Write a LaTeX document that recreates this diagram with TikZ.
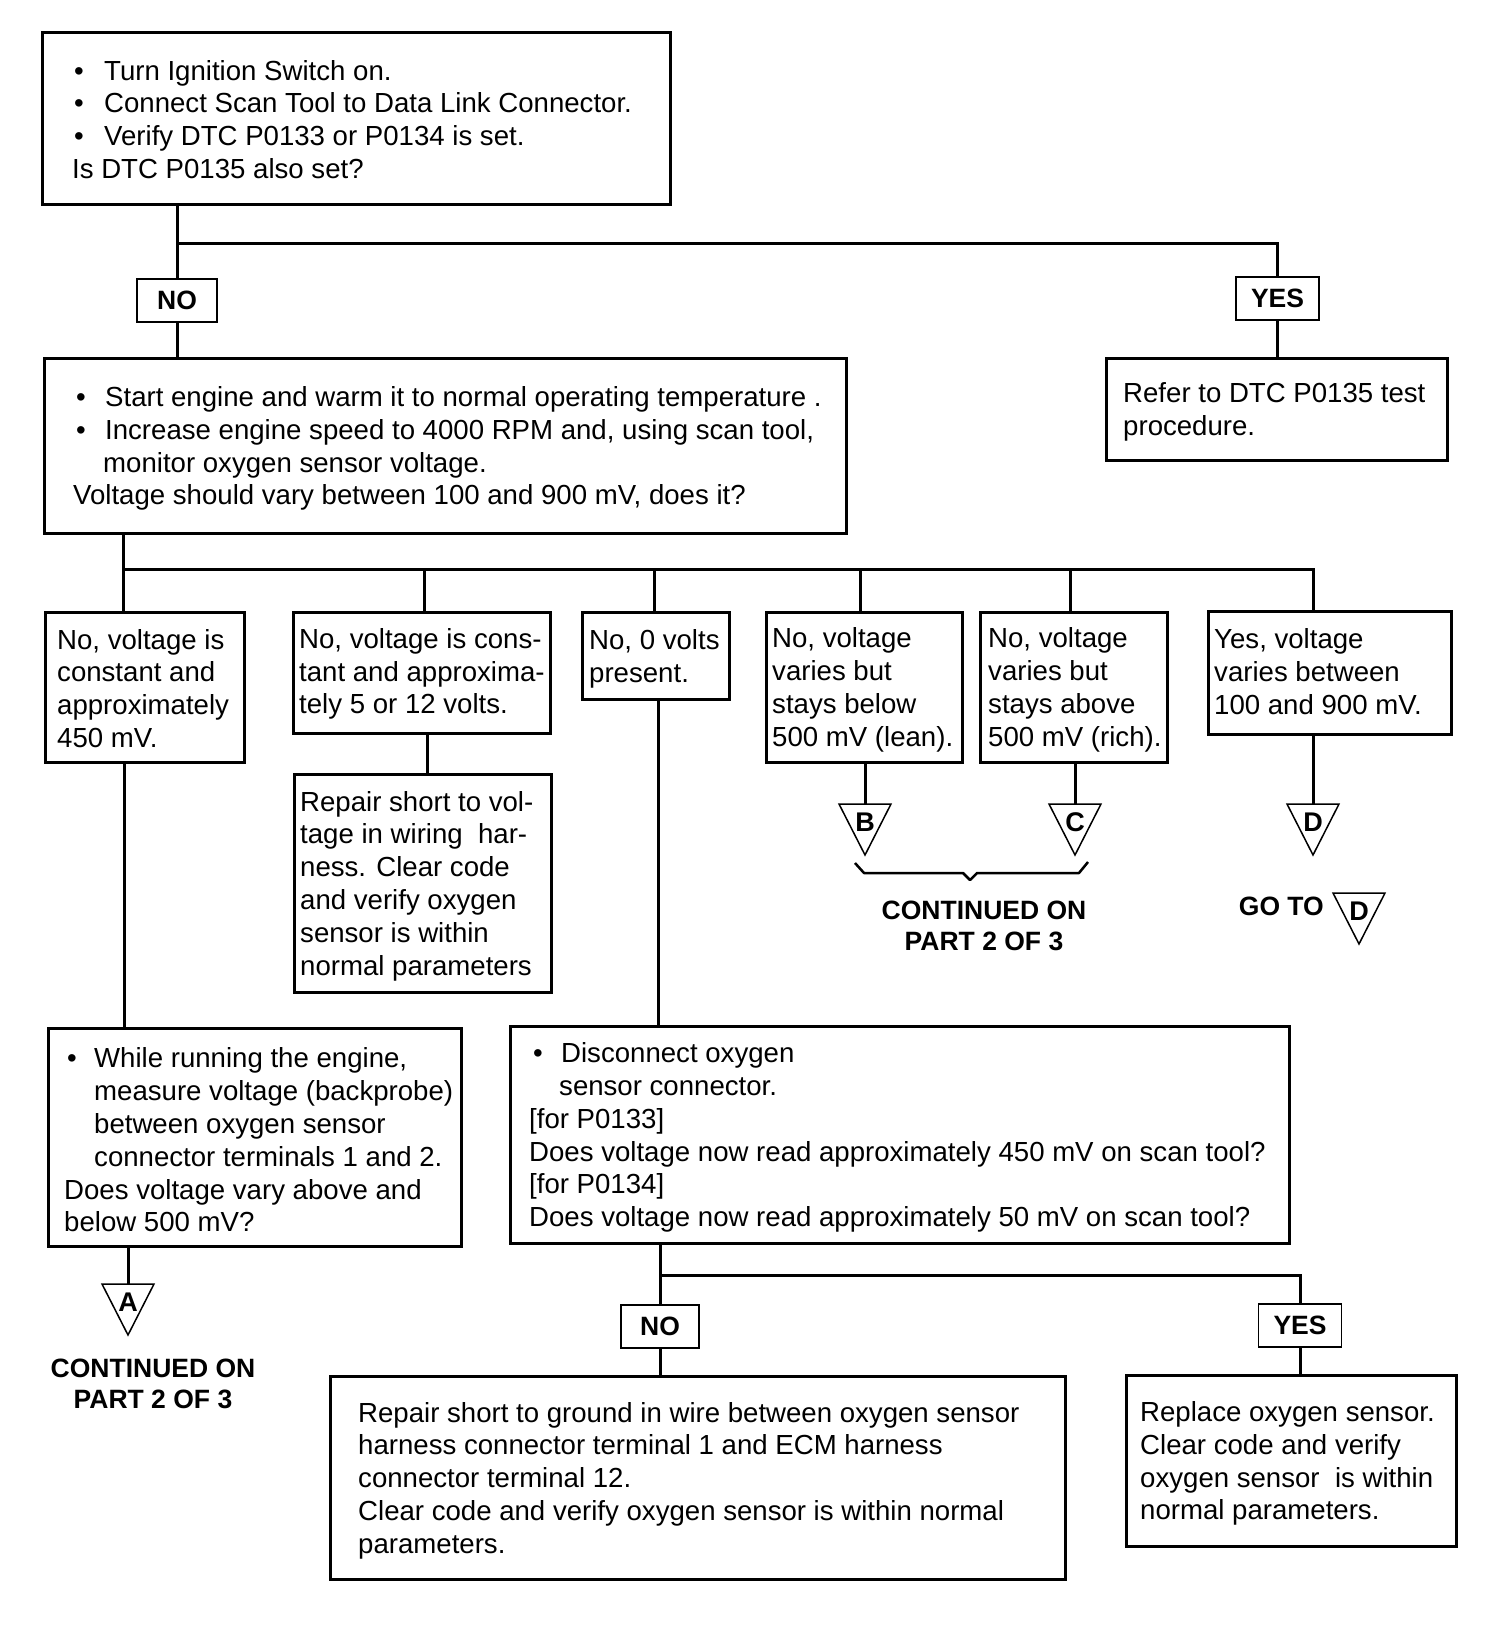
\documentclass[tikz,border=0pt]{standalone}
\usepackage{fontspec}
\setmainfont{Liberation Sans}
\usetikzlibrary{calc}
\newcommand{\fsz}{\fontsize{27.6pt}{32.8pt}\selectfont}
\newcommand{\bsz}{\fontsize{26.5pt}{31pt}\selectfont\bfseries}
\newcommand{\bul}[1]{\makebox[#1][l]{\textbullet}}
\newcommand{\flowtri}[4]{%
  \coordinate (#1) at (#2,#3);
  \draw[tri] ($(#1)+(-26,0)$) -- ($(#1)+(26,0)$) -- ($(#1)+(0,51)$) -- cycle;
  \node[tlet] (#1l) at ($(#1)+(0,18)$) {#4};
}
\tikzset{
  box/.style={draw, line width=3pt, inner sep=0pt, anchor=north west},
  lab/.style={draw, line width=1.6pt, inner sep=0pt, minimum height=43pt, font=\bsz},
  txt/.style={anchor=west, align=left, inner sep=0pt, font=\fsz, yshift=-2.5pt},
  conn/.style={line width=3pt},
  tri/.style={line width=1.5pt, line join=miter},
  tlet/.style={inner sep=0pt, font=\fontsize{27pt}{27pt}\selectfont\bfseries},
  note/.style={align=center, inner sep=0pt, font=\bsz},
}
\begin{document}
\begin{tikzpicture}[x=1pt,y=-1pt]
\fill[white] (0,0) rectangle (1504,1640);
\useasboundingbox (0,0) rectangle (1504,1640);

% boxes
\node[box, minimum width=628pt, minimum height=172pt] (b1) at (41,31) {};
\node[box, minimum width=802pt, minimum height=175pt] (b2) at (43,357) {};
\node[box, minimum width=341pt, minimum height=102pt] (ref) at (1105,357) {};
\node[box, minimum width=199pt, minimum height=150pt] (r1) at (44,611) {};
\node[box, minimum width=257pt, minimum height=121pt] (r2) at (292,611) {};
\node[box, minimum width=147pt, minimum height=87pt] (r3) at (581,611) {};
\node[box, minimum width=196pt, minimum height=150pt] (r4) at (765,611) {};
\node[box, minimum width=187pt, minimum height=150pt] (r5) at (979,611) {};
\node[box, minimum width=243pt, minimum height=123pt] (r6) at (1207,610) {};
\node[box, minimum width=257pt, minimum height=218pt] (r2b) at (293,773) {};
\node[box, minimum width=413pt, minimum height=218pt] (b3) at (47,1027) {};
\node[box, minimum width=779pt, minimum height=217pt] (b4) at (509,1025) {};
\node[box, minimum width=735pt, minimum height=203pt] (b5) at (329,1375) {};
\node[box, minimum width=330pt, minimum height=171pt] (b6) at (1125,1374) {};

% texts
\node[txt, yshift=1.5pt] (t1) at ([xshift=31pt]b1.west) {%
\hspace*{2pt}\bul{30pt}Turn Ignition Switch on.\\
\hspace*{2pt}\bul{30pt}Connect Scan Tool to Data Link Connector.\\
\hspace*{2pt}\bul{30pt}Verify DTC P0133 or P0134 is set.\\
Is DTC P0135 also set?};
\node[txt] (t2) at ([xshift=30pt]b2.west) {%
\hspace*{3pt}\bul{29pt}Start engine and warm it to normal operating temperature .\\
\hspace*{3pt}\bul{29pt}Increase engine speed to 4000 RPM and, using scan tool,\\
\hspace*{30pt}monitor oxygen sensor voltage.\\
Voltage should vary between 100 and 900 mV, does it?};
\node[txt] (tref) at ([xshift=18pt]ref.west) {Refer to DTC P0135 test\\procedure.};
\node[txt, yshift=1.5pt] (tr1) at ([xshift=13pt]r1.west) {No, voltage is\\constant and\\approximately\\450 mV.};
\node[txt, yshift=1.5pt] (tr2) at ([xshift=7pt]r2.west) {No, voltage is cons-\\tant and approxima-\\tely 5 or 12 volts.};
\node[txt] (tr3) at ([xshift=8pt]r3.west) {No, 0 volts\\present.};
\node[txt] (tr4) at ([xshift=7pt]r4.west) {No, voltage\\varies but\\stays below\\500 mV (lean).};
\node[txt] (tr5) at ([xshift=9pt]r5.west) {No, voltage\\varies but\\stays above\\500 mV (rich).};
\node[txt, yshift=4pt] (tr6) at ([xshift=7pt]r6.west) {Yes, voltage\\varies between\\100 and 900 mV.};
\node[txt] (tr2b) at ([xshift=7pt]r2b.west) {Repair short to vol-\\tage in wiring~~har-\\ness. Clear code\\and verify oxygen\\sensor is within\\normal parameters};
\node[txt] (t3) at ([xshift=17pt]b3.west) {%
\hspace*{3pt}\bul{27pt}While running the engine,\\
\hspace*{30pt}measure voltage (backprobe)\\
\hspace*{30pt}between oxygen sensor\\
\hspace*{30pt}connector terminals 1 and 2.\\
Does voltage vary above and\\
below 500 mV?};
\node[txt] (t4) at ([xshift=20pt]b4.west) {%
\hspace*{4pt}\bul{28pt}Disconnect oxygen\\
\hspace*{30pt}sensor connector.\\
{[for P0133]}\\
Does voltage now read approximately 450 mV on scan tool?\\
{[for P0134]}\\
Does voltage now read approximately 50 mV on scan tool?};
\node[txt] (t5) at ([xshift=29pt]b5.west) {Repair short to ground in wire between oxygen sensor\\harness connector terminal 1 and ECM harness\\connector terminal 12.\\Clear code and verify oxygen sensor is within normal\\parameters.};
\node[txt] (t6) at ([xshift=15pt]b6.west) {Replace oxygen sensor.\\Clear code and verify\\oxygen sensor~~is within\\normal parameters.};

% yes/no labels
\node[lab, minimum width=80pt] (no1) at (177,300.5) {NO};
\node[lab, minimum width=83pt] (yes1) at (1277.5,298.5) {YES};
\node[lab, minimum width=78pt] (no2) at (660,1326.5) {NO};
\node[lab, minimum width=83pt] (yes2) at (1300,1325.5) {YES};

% connectors top
\coordinate (j1) at (177,243);
\draw[conn] (b1.south -| j1) -- (no1.north);
\draw[conn] (j1) -| (yes1.north);
\draw[conn] (no1.south) -- (no1.south |- b2.north);
\draw[conn] (yes1.south) -- (yes1.south |- ref.north);

% bus
\coordinate (k1) at (123,569);
\coordinate (k2) at (424,569);
\coordinate (k3) at (654,569);
\coordinate (k4) at (860,569);
\coordinate (k5) at (1070,569);
\coordinate (k6) at (1313,569);
\draw[conn] (b2.south -| k1) -- (k1 |- r1.north);
\draw[conn] (k1) -- (k6) -- (k6 |- r6.north);
\draw[conn] (k2) -- (k2 |- r2.north);
\draw[conn] (k3) -- (k3 |- r3.north);
\draw[conn] (k4) -- (k4 |- r4.north);
\draw[conn] (k5) -- (k5 |- r5.north);

% triangles
\flowtri{tB}{865}{804}{B}
\flowtri{tC}{1075}{804}{C}
\flowtri{tD}{1313}{804}{D}
\flowtri{tA}{128}{1284}{A}
\flowtri{tD2}{1359}{893}{D}

% lower verticals
\coordinate (v1) at (124,0);
\coordinate (v2) at (427,0);
\coordinate (v3) at (658,0);
\draw[conn] (r1.south -| v1) -- (b3.north -| v1);
\draw[conn] (r2.south -| v2) -- (r2b.north -| v2);
\draw[conn] (r3.south -| v3) -- (b4.north -| v3);
\draw[conn] (r4.south -| tB) -- (tB);
\draw[conn] (r5.south -| tC) -- (tC);
\draw[conn] (r6.south -| tD) -- (tD);
\draw[conn] (b3.south -| tA) -- (tA);

% bottom branch
\coordinate (j2) at (660,1275);
\draw[conn] (b4.south -| j2) -- (no2.north);
\draw[conn] (j2) -| (yes2.north);
\draw[conn] (no2.south) -- (no2.south |- b5.north);
\draw[conn] (yes2.south) -- (yes2.south |- b6.north);

% brace
\draw[line width=2.5pt, line join=round] (855,863) -- (864,873) -- (963,873) -- (970,880) -- (977,873) -- (1079,873) -- (1088,862);

% notes
\node[note] (cont1) at (984,926) {CONTINUED ON\\PART 2 OF 3};
\node[note] (cont2) at (153,1384) {CONTINUED ON\\PART 2 OF 3};
\node[note, anchor=east] (goto) at (1324,906) {GO TO};
\end{tikzpicture}
\end{document}
